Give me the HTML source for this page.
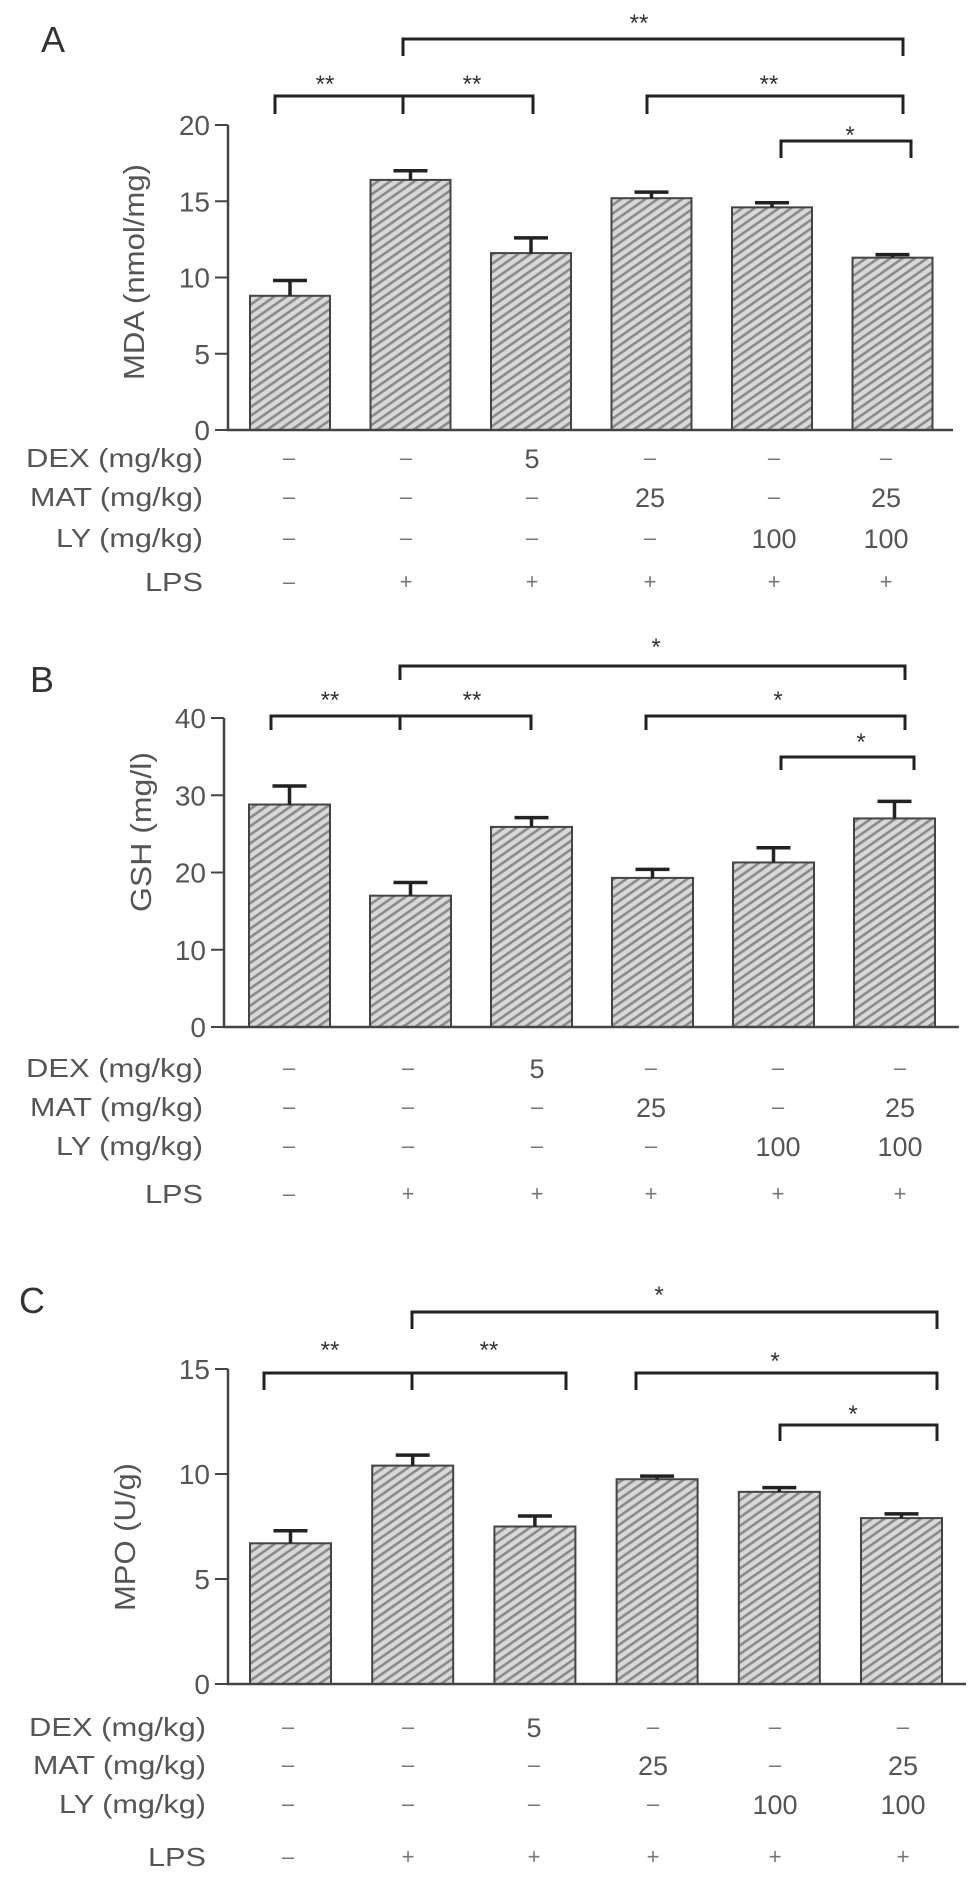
<!DOCTYPE html>
<html><head><meta charset="utf-8"><style>
html,body{margin:0;padding:0;background:#fff;}
svg{display:block;font-family:"Liberation Sans",Arial,sans-serif;}
</style></head><body>
<svg id="fig" width="969" height="1897" viewBox="0 0 969 1897" xmlns="http://www.w3.org/2000/svg">
<defs>
<pattern id="hatch" patternUnits="userSpaceOnUse" width="7" height="7" patternTransform="rotate(-35)">
<rect width="7" height="7" fill="#d8d8d8"/>
<rect width="7" height="2.6" fill="#8a8a8a"/>
</pattern>
</defs>
</svg>
<script>
// Panel A data
const categories = ["Control","LPS","LPS+DEX","LPS+MAT","LPS+LY","LPS+MAT+LY"];
const valuesA = [8.8,16.4,11.6,15.2,14.6,11.3];
const errorsA = [1.0,0.6,1.0,0.4,0.3,0.2];
const ticksA = [0,5,10,15,20];
// Panel B data
const valuesB = [28.8,17.0,25.9,19.3,21.3,27.0];
const errorsB = [2.4,1.7,1.2,1.1,1.9,2.2];
const ticksB = [0,10,20,30,40];
// Panel C data
const valuesC = [6.7,10.4,7.5,9.75,9.15,7.9];
const errorsC = [0.6,0.5,0.5,0.15,0.2,0.2];
const ticksC = [0,5,10,15];
// Treatment table
const rowLabels = ["DEX (mg/kg)","MAT (mg/kg)","LY (mg/kg)","LPS"];
const dexRow = ["–","–","5","–","–","–"];
const matRow = ["–","–","–","25","–","25"];
const lyRow = ["–","–","–","–","100","100"];
const lpsRow = ["–","+","+","+","+","+"];
const starsA = ["**","**","**","**","*"];
const starsB = ["*","**","**","*","*"];
const starsC = ["*","**","**","*","*"];

const NS="http://www.w3.org/2000/svg";
const svg=document.getElementById('fig');
function mk(tag,attrs,parent,text){
  const e=document.createElementNS(NS,tag);
  for(const k in attrs) e.setAttribute(k,attrs[k]);
  if(text!==undefined) e.textContent=text;
  (parent||svg).appendChild(e);
  return e;
}

const panels=[
 {letter:"A",lx:53,ly:52,values:valuesA,errors:errorsA,ticks:ticksA,yLabel:"MDA (nmol/mg)",ylx:134,yly:272,ylw:216,
  axisX:228,axisEnd:953,y0:430,yTop:125,vmax:20,bar0:250,pitch:120.5,bw:80,
  rows:[458,497,538,582],cols:[289,406,532,650,774,886],labRight:203,stars:starsA,
  br:{top:[39,56,403,903,639,22],r2y:[96,114],left:[275,403,533],s2:[325,472,83],right:[647,903,769,83],r3:[141,158,781,911,850,134]}},
 {letter:"B",lx:42,ly:692,values:valuesB,errors:errorsB,ticks:ticksB,yLabel:"GSH (mg/l)",ylx:141,yly:832,ylw:160,
  axisX:224,axisEnd:959,y0:1027,yTop:718,vmax:40,bar0:249,pitch:121,bw:81,
  rows:[1068,1107,1146,1194],cols:[289,408,537,651,778,900],labRight:203,stars:starsB,
  br:{top:[666,680,400,905,656,646],r2y:[716,730],left:[271,400,531],s2:[330,472,699],right:[646,905,778,699],r3:[757,770,781,914,861,741]}},
 {letter:"C",lx:32,ly:1313,values:valuesC,errors:errorsC,ticks:ticksC,yLabel:"MPO (U/g)",ylx:125,yly:1537,ylw:148,
  axisX:228,axisEnd:966,y0:1684,yTop:1369,vmax:15,bar0:250,pitch:122.2,bw:81,
  rows:[1727,1765,1804,1857],cols:[288,408,534,653,775,903],labRight:206,stars:starsC,
  br:{top:[1312,1329,412,937,659,1294],r2y:[1373,1390],left:[264,412,566],s2:[330,489,1349],right:[636,937,775,1360],r3:[1425,1441,780,937,853,1413]}}
];
const tableRows=[dexRow,matRow,lyRow,lpsRow];

function bracket(g,y,yd,xs,name){
  let d="M"+xs[0]+" "+yd+" L"+xs[0]+" "+y+" L"+xs[xs.length-1]+" "+y+" L"+xs[xs.length-1]+" "+yd;
  for(let i=1;i<xs.length-1;i++) d+=" M"+xs[i]+" "+y+" L"+xs[i]+" "+yd;
  const p=mk('path',{d:d,fill:"none",stroke:"#222","stroke-width":3},g);
  
  
}
function star(g,x,y,s){
  const t=mk('text',{x:x,y:y+9,"text-anchor":"middle","font-size":24,fill:"#333"},g,s);
  
  
}

panels.forEach((P,pi)=>{
  const g=mk('g',{});
  
  
  const yS=v=>P.y0-(v/P.vmax)*(P.y0-P.yTop);
  const xS=i=>P.bar0+i*P.pitch;
  const L=mk('text',{x:P.lx,y:P.ly,"text-anchor":"middle","font-size":36,fill:"#333"},g,P.letter);
  
  
  P.values.forEach((v,i)=>{
    const x=xS(i), y=yS(v);
    const r=mk('rect',{x:x,y:y,width:P.bw,height:P.y0-y,fill:"url(#hatch)",stroke:"#444","stroke-width":2},g);
    
    
    const cx=x+P.bw/2, ye=yS(v+P.errors[i]);
    const e=mk('path',{d:"M"+cx+" "+y+" L"+cx+" "+ye+" M"+(cx-17)+" "+ye+" L"+(cx+17)+" "+ye,stroke:"#222","stroke-width":3.5,fill:"none"},g);
    
    
  });
  const ax=mk('path',{d:"M"+P.axisX+" "+P.yTop+" L"+P.axisX+" "+P.y0+" L"+P.axisEnd+" "+P.y0,stroke:"#444","stroke-width":2.5,fill:"none"},g);
  
  
  P.ticks.forEach(t=>{
    const y=yS(t);
    const tk=mk('line',{x1:P.axisX-13,x2:P.axisX,y1:y,y2:y,stroke:"#444","stroke-width":2},g);
    
    
    const tl=mk('text',{x:P.axisX-18,y:y+10,"text-anchor":"end","font-size":28,fill:"#555"},g,String(t));
    
    
  });
  const yl=mk('text',{x:0,y:0,transform:"translate("+(P.ylx+10)+","+P.yly+") rotate(-90)","text-anchor":"middle","font-size":29,fill:"#555",textLength:P.ylw,lengthAdjust:"spacingAndGlyphs"},g,P.yLabel);
  
  
  rowLabels.forEach((lab,r)=>{
    const y=P.rows[r];
    const w=[177,173,147,58][r];
    const t=mk('text',{x:P.labRight,y:y+9,"text-anchor":"end","font-size":26,fill:"#555",textLength:w,lengthAdjust:"spacingAndGlyphs"},g,lab);
    
    
    tableRows[r].forEach((s,c)=>{
      const small=(s==="–"||s==="+");
      const tt=mk('text',{x:P.cols[c],y:y+(small?7:10),"text-anchor":"middle","font-size":small?22:27,fill:small?"#777":"#555"},g,s);
      
      
    });
  });
  const B=P.br;
  bracket(g,B.top[0],B.top[1],[B.top[2],B.top[3]],'bracket-top');
  star(g,B.top[4],B.top[5],P.stars[0]);
  bracket(g,B.r2y[0],B.r2y[1],B.left,'bracket-left');
  star(g,B.s2[0],B.s2[2],P.stars[1]);
  star(g,B.s2[1],B.s2[2],P.stars[2]);
  bracket(g,B.r2y[0],B.r2y[1],[B.right[0],B.right[1]],'bracket-right');
  star(g,B.right[2],B.right[3],P.stars[3]);
  bracket(g,B.r3[0],B.r3[1],[B.r3[2],B.r3[3]],'bracket-inner');
  star(g,B.r3[4],B.r3[5],P.stars[4]);
});
</script>
</body></html>
